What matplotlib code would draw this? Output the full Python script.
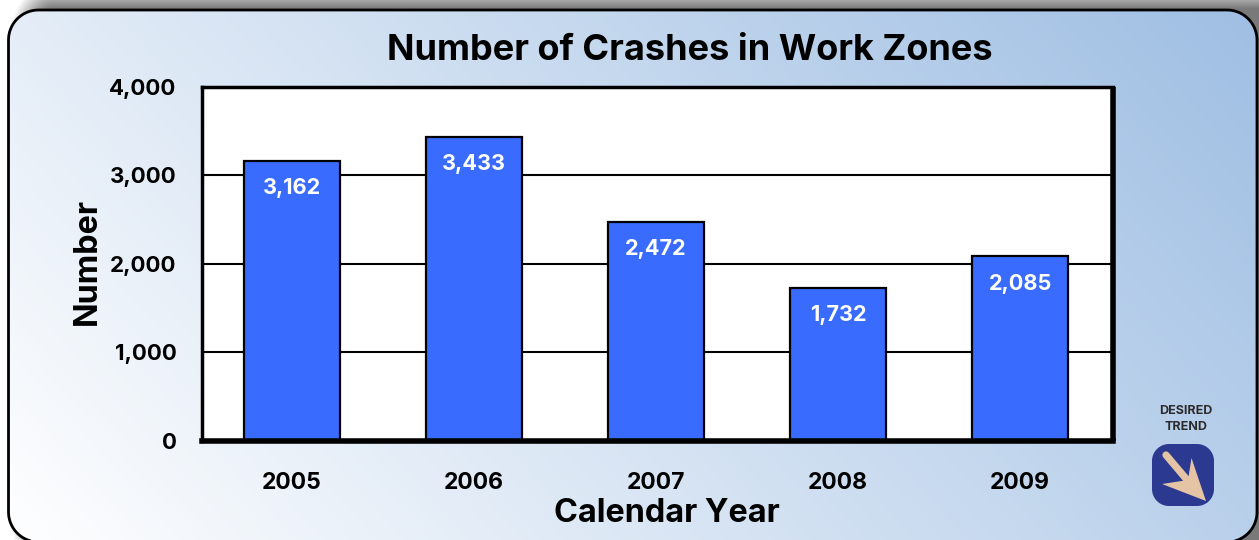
import numpy as np
import matplotlib
matplotlib.use("Agg")
import matplotlib.pyplot as plt
from matplotlib.patches import Polygon

plt.rcParams['font.family'] = ['Inter', 'DejaVu Sans']

years = ['2005', '2006', '2007', '2008', '2009']
crashes = [3162, 3433, 2472, 1732, 2085]
y_ticks = [0, 1000, 2000, 3000, 4000]
y_tick_labels = ['0', '1,000', '2,000', '3,000', '4,000']

W, H = 1259, 540
fig = plt.figure(figsize=(W / 100, H / 100), dpi=100, facecolor='white')

# background layer in pixel coordinates, runs past the bottom so the panel is not cut
extra = 60
bg = fig.add_axes([0, -extra / H, 1, (H + extra) / H], zorder=0)
bg.axis('off')


def rounded_outline(xa, ya, xb, yb, r):
    # corners as real circle arcs
    a = np.linspace(0, np.pi / 2, 24)
    pts = []
    for (cx_, cy_, start) in [(xb - r, ya + r, -np.pi / 2), (xb - r, yb - r, 0),
                              (xa + r, yb - r, np.pi / 2), (xa + r, ya + r, np.pi)]:
        pts.append(np.column_stack([cx_ + r * np.cos(start + a), cy_ + r * np.sin(start + a)]))
    return np.vstack(pts)


# soft grey shadow behind the panel
yy, xx = np.mgrid[0:H, 0:W]
x0, x1, y0, y1, rad = 24, 1290, -4, 560, 30
cx, cy = (x0 + x1) / 2, (y0 + y1) / 2
qx = np.abs(xx - cx) - ((x1 - x0) / 2 - rad)
qy = np.abs(yy - cy) - ((y1 - y0) / 2 - rad)
dist = np.hypot(np.maximum(qx, 0), np.maximum(qy, 0)) + np.minimum(np.maximum(qx, qy), 0) - rad
shadow = np.clip(0.5 - dist / 24, 0, 1)
shadow_img = np.ones((H, W, 4))
shadow_img[..., :3] = 0.45
shadow_img[..., 3] = shadow * 0.95
bg.imshow(shadow_img, extent=(0, W, H, 0), aspect='auto', zorder=1)

# panel with diagonal gradient
panel = Polygon(rounded_outline(8.5, 10, 1257, 542, 30), closed=True, fc='none', ec='black', lw=2, zorder=3)
bg.add_patch(panel)
t = 0.72 * xx / W + 0.28 * (1 - yy / H)
c0 = np.array([255, 255, 255]) / 255
c1 = np.array([158, 190, 227]) / 255
grad = c0 + (c1 - c0) * t[..., None]
im = bg.imshow(grad, extent=(0, W, H, 0), aspect='auto', zorder=2)
im.set_clip_path(panel)
bg.set_xlim(0, W)
bg.set_ylim(H + extra, 0)

# desired trend icon
bg.text(1186, 411, 'DESIRED', ha='center', va='center', fontsize=9, fontweight='bold', color='#2b2b2b', zorder=4)
bg.text(1186, 427, 'TREND', ha='center', va='center', fontsize=9, fontweight='bold', color='#2b2b2b', zorder=4)
bg.add_patch(Polygon(rounded_outline(1152, 444, 1214, 506, 17), closed=True, fc='#2B3990', ec='none', zorder=4))
bg.plot([1166, 1188], [455, 481], color='#E5C3A5', lw=5.2, solid_capstyle='round', zorder=5)
bg.add_patch(Polygon([(1206, 501), (1191.5, 458), (1188, 480), (1162, 484)],
                     closed=True, fc='#E5C3A5', ec='none', zorder=5))

# main plot
left, right, top, bottom = 201.7, 1113, 86.8, 441.0
ax = fig.add_axes([left / W, 1 - bottom / H, (right - left) / W, (bottom - top) / H],
                  zorder=1, facecolor='white')
x = np.arange(len(years))
ax.yaxis.grid(True, color='black', lw=1.5)
ax.set_axisbelow(True)
ax.bar(x, crashes, width=0.525, color='#3A6BFF', edgecolor='black', lw=1.6, zorder=2)
ax.set_xlim(-0.496, 4.51)
ax.set_ylim(0, 4000)

for xi, v in zip(x, crashes):
    ax.annotate(f'{v:,}', (xi, v), xytext=(0, -19.7), textcoords='offset points',
                ha='center', va='center', color='white', fontsize=15.6, fontweight='bold', zorder=3)

ax.set_xticks(x, years)
ax.set_yticks(y_ticks, y_tick_labels)
ax.tick_params(axis='x', length=0, labelsize=16.5, pad=22)
ax.tick_params(axis='y', length=0, labelsize=16, pad=18)
for lab in ax.get_xticklabels() + ax.get_yticklabels():
    lab.set_fontweight('bold')

ax.spines['top'].set_linewidth(2.5)
ax.spines['left'].set_linewidth(2.5)
ax.spines['right'].set_linewidth(4)
ax.spines['right'].set_capstyle('butt')
ax.spines['bottom'].set_linewidth(4)

fig.text(690 / W, 1 - 50 / H, 'Number of Crashes in Work Zones', ha='center', va='center',
         fontsize=26, fontweight='bold', color='black')
fig.text(667 / W, 1 - 513.5 / H, 'Calendar Year', ha='center', va='center',
         fontsize=23.3, fontweight='bold', color='black')
fig.text(87 / W, 1 - 261 / H, 'Number', ha='center', va='center', rotation=90,
         fontsize=23.3, fontweight='bold', color='black')

fig.savefig('out.png', dpi=100)
